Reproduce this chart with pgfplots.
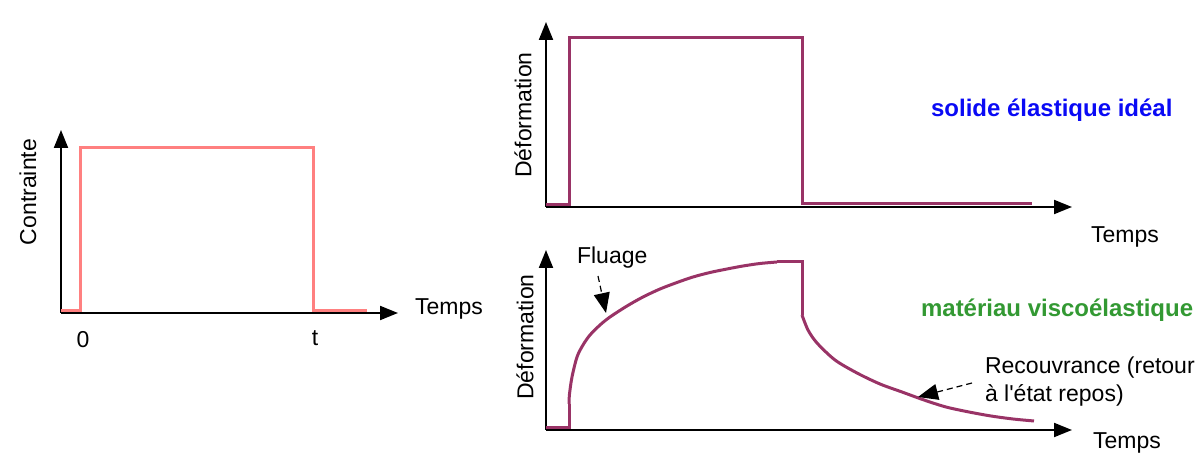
\documentclass[border=0pt]{standalone}
\usepackage{fontspec}
\setmainfont{Liberation Sans}
\usepackage{pgfplots}
\pgfplotsset{compat=1.18}
\usetikzlibrary{arrows.meta}

\definecolor{rose}{RGB}{255,128,128}
\definecolor{prune}{RGB}{153,51,102}
\definecolor{vert}{RGB}{51,153,51}
\definecolor{bleu}{RGB}{10,10,245}

% 1 px of the reference = 0.5pt, coordinates are pixels (y counted from the bottom)
\pgfplotsset{schema/.style={
    axis lines=left, x=0.5pt, y=0.5pt, anchor=south west, clip=false,
    axis line style={line width=1pt, -{Triangle[length=9pt,width=7pt]}},
    xtick=\empty, ytick=\empty, major tick length=0pt,
  }}

\begin{document}
\begin{tikzpicture}[font=\fontsize{11.5}{13.5}\selectfont]
\path[use as bounding box] (0,0) rectangle (600pt,227pt);

% contrainte appliquee
\begin{axis}[schema, at={(30.5pt,70.5pt)},
    xmin=61, xmax=398, ymin=141, ymax=324,
    xtick={81,313}, xticklabels={0,t},
    xticklabel style={yshift=-5.5pt, xshift=1pt}]
  \addplot[rose, line width=1.5pt] coordinates
    {(61,143) (81,143) (81,306) (313,306) (313,143) (367,143)};
  \node[rotate=90] at (axis cs:28,262) {Contrainte};
  \node[anchor=west] at (axis cs:408,145) {Temps};
\end{axis}

% solide elastique ideal
\begin{axis}[schema, at={(273pt,123.5pt)},
    xmin=546, xmax=1072, ymin=247, ymax=432]
  \addplot[prune, line width=1.5pt] coordinates
    {(546,249) (569,249) (569,416) (802,416) (802,250) (1032,250)};
  \node[rotate=90] at (axis cs:523,339) {Déformation};
  \node[anchor=west, bleu, font=\fontsize{12}{14}\bfseries] at (axis cs:924,344) {solide élastique idéal};
  \node[anchor=west] at (axis cs:1084,217) {Temps};
\end{axis}

% materiau viscoelastique
\begin{axis}[schema, at={(273pt,12pt)},
    xmin=546, xmax=1072, ymin=24, ymax=204]
  \addplot[prune, line width=1.5pt] coordinates
    {(546,26) (569,26) (569,50)};
  % fluage
  \addplot[prune, line width=1.5pt, smooth] coordinates
    {(569,50) (569.5,60) (572,77) (577,97) (583,109) (590,119) (600,129)
     (610,137) (627,148) (643,157) (660,165) (677,171.5) (693,177)
     (710,181.5) (727,185) (743,188) (760,190.5) (777,192)};
  \addplot[prune, line width=1.5pt] coordinates
    {(777,192) (802,192) (802,139)};
  % recouvrance
  \addplot[prune, line width=1.5pt, smooth] coordinates
    {(802,139) (808,124) (817,111) (835,94) (857,81) (880,70) (902,62)
     (924,54) (946,47) (969,42) (991,38) (1013,35) (1034,33)};
  \node[rotate=90] at (axis cs:525,117) {Déformation};
  \node[anchor=west] at (axis cs:570,196) {Fluage};
  \draw[densely dashed, line width=0.6pt, -{Triangle[length=10pt,width=8pt]}]
    (axis cs:598,178) -- (axis cs:606,141);
  \node[anchor=west, vert, font=\fontsize{12}{14}\bfseries] at (axis cs:914,144) {matériau viscoélastique};
  \node[anchor=west] at (axis cs:978,86) {Recouvrance (retour};
  \node[anchor=west] at (axis cs:978,59) {à l\textquotesingle état repos)};
  \draw[densely dashed, line width=0.6pt, -{Triangle[length=10pt,width=8pt]}]
    (axis cs:972,71) -- (axis cs:918,57);
  \node[anchor=west] at (axis cs:1086,11) {Temps};
\end{axis}
\end{tikzpicture}
\end{document}
